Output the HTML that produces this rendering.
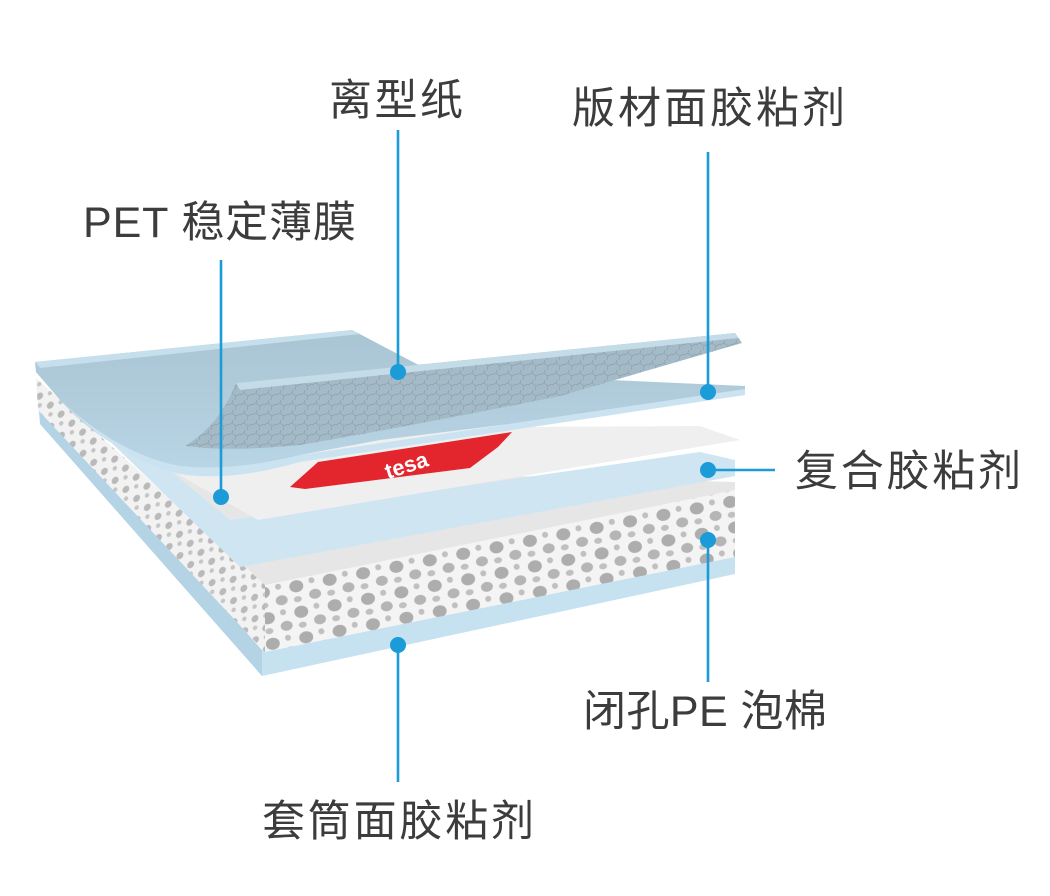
<!DOCTYPE html>
<html><head><meta charset="utf-8"><style>
html,body{margin:0;padding:0;background:#fff;}
svg{display:block}
text{font-family:"Liberation Sans","Noto Sans CJK SC",sans-serif;fill:#3c3c3c;font-size:43px}
</style></head><body>
<svg width="1050" height="896" viewBox="0 0 1050 896" xmlns="http://www.w3.org/2000/svg">
<defs>
<pattern id="holes" width="34" height="26" patternUnits="userSpaceOnUse" patternTransform="rotate(-11)">
<rect width="34" height="26" fill="#f4f4f4"/>
<ellipse cx="9" cy="8" rx="7" ry="6" fill="#adadad"/>
<ellipse cx="26" cy="19" rx="6" ry="5" fill="#b5b5b5"/>
<ellipse cx="25" cy="5" rx="3" ry="3" fill="#c0c0c0"/>
<ellipse cx="8" cy="21" rx="4" ry="3" fill="#c0c0c0"/>
</pattern>
<pattern id="holes2" width="14" height="16" patternUnits="userSpaceOnUse" patternTransform="rotate(40)">
<rect width="14" height="16" fill="#f2f2f2"/>
<ellipse cx="5" cy="6" rx="3" ry="4" fill="#bababa"/>
<ellipse cx="11" cy="13" rx="2" ry="2.5" fill="#c6c6c6"/>
</pattern>
<pattern id="tex" width="12" height="10" patternUnits="userSpaceOnUse">
<rect width="12" height="10" fill="#a4bac7"/>
<path d="M0 5 L4 3 L8 6 L12 4 M4 3 L5 0 M8 6 L7 10" stroke="#8aa1af" stroke-width="0.7" fill="none"/>
</pattern>
<linearGradient id="bl" x1="0" y1="0" x2="0" y2="1"><stop offset="0" stop-color="#a9c4d3"/><stop offset="1" stop-color="#b9d6e6"/></linearGradient>
</defs>

<polygon points="38,398 262,650 262,676 40,424" fill="#b4d3e4"/>
<polygon points="262,650 735,555 735,574 262,676" fill="#c6e1f0"/>
<polygon points="36,378 265,585 265,652 38,410" fill="url(#holes2)"/>
<polygon points="265,585 735,490 735,557 265,652" fill="url(#holes)"/>
<polygon points="36,372 265,585 735,490 735,482 300,470" fill="#e6e6e6"/>
<polygon points="38,372 240,567 735,476 735,460 700,452 230,520 60,380" fill="#cfe5f1"/>
<polygon points="100,430 258,520 740,440 700,426 330,428 180,462" fill="#efefef"/>
<polygon points="290,487 318,462 512,432 498,447 470,468 305,489" fill="#e3262e"/>
<text x="385" y="478" transform="rotate(-18 390 470)" style="fill:#fff;font-size:22px;font-weight:bold">tesa</text>
<path d="M35,362 L352,330 L432,372 L745,386 L745,395 L380,440 L300,455 Q230,478 180,470 Q110,455 60,400 L36,372 Z" fill="url(#bl)"/>
<path d="M35,362 L352,330 L360,334 L40,368 Z" fill="#c6dfec"/>
<path d="M300,455 L745,389 L745,395 L300,462 Q230,482 180,474 Q120,460 60,400 Q120,455 180,466 Q230,472 300,455Z" fill="#cbe3f0"/>
<path d="M236,383 L735,333 L742,343 L560,396 Q400,428 300,445 Q230,452 185,446 Q220,425 236,383 Z" fill="url(#tex)"/>
<path d="M236,383 L735,333 L738,338 L240,390 Z" fill="#c4dbe8"/>

<g stroke="#1b9bd7" stroke-width="2.6" fill="none">
<line x1="398" y1="130" x2="398" y2="372"/>
<line x1="708" y1="152" x2="708" y2="392"/>
<line x1="221" y1="260" x2="221" y2="497"/>
<line x1="708" y1="470" x2="775" y2="470"/>
<line x1="708" y1="540" x2="708" y2="682"/>
<line x1="398" y1="645" x2="398" y2="782"/>
</g>
<g fill="#1b9bd7">
<circle cx="398" cy="372" r="8"/>
<circle cx="708" cy="392" r="8"/>
<circle cx="221" cy="497" r="8"/>
<circle cx="708" cy="470" r="8"/>
<circle cx="708" cy="540" r="8"/>
<circle cx="398" cy="645" r="8"/>
</g>

<text x="329" y="115" textLength="134">离型纸</text>
<text x="572" y="123" textLength="273">版材面胶粘剂</text>
<text x="83" y="237" textLength="273">PET 稳定薄膜</text>
<text x="795" y="486" textLength="226">复合胶粘剂</text>
<text x="583" y="726" textLength="244">闭孔PE 泡棉</text>
<text x="262" y="836" textLength="272">套筒面胶粘剂</text>
</svg>
</body></html>
